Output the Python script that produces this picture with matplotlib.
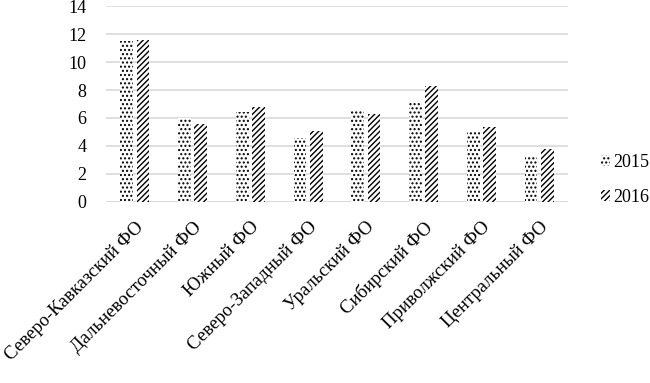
import matplotlib
matplotlib.use("Agg")
import matplotlib.pyplot as plt
import numpy as np

okruga = ["Северо-Кавказский ФО", "Дальневосточный ФО", "Южный ФО",
          "Северо-Западный ФО", "Уральский ФО", "Сибирский ФО",
          "Приволжский ФО", "Центральный ФО"]
v2015 = [11.5, 6.0, 6.4, 4.55, 6.5, 7.15, 5.05, 3.3]
v2016 = [11.6, 5.55, 6.75, 5.05, 6.3, 8.3, 5.35, 3.75]

plt.rcParams['font.family'] = ['Liberation Serif', 'DejaVu Serif']
plt.rcParams['hatch.linewidth'] = 1.0

fig = plt.figure(figsize=(6.5, 3.83), dpi=100)
ax = fig.add_axes([0.163, 0.473, 0.711, 0.511])

x = np.arange(len(okruga))
w = 0.22
b1 = ax.bar(x - w / 2 - 0.03, v2015, w, color='white', edgecolor='black',
            hatch='....', linewidth=0, label='2015')
b2 = ax.bar(x + w / 2 + 0.03, v2016, w, color='white', edgecolor='black',
            hatch='//////', linewidth=0, label='2016')

ax.set_xlim(-0.5, len(okruga) - 0.5)
ax.set_ylim(0, 14)
ax.set_yticks(range(0, 15, 2))
ax.yaxis.grid(True, color='#d9d9d9', linewidth=1.2)
ax.set_axisbelow(True)
for s in ax.spines.values():
    s.set_visible(False)
ax.axhline(0, color='#d9d9d9', linewidth=1.2, zorder=0)
ax.tick_params(axis='y', length=0, labelsize=13, pad=14)
ax.tick_params(axis='x', length=0, labelsize=13.5, pad=12)
ax.set_xticks(x)
ax.set_xticklabels(okruga, rotation=45, ha='right', rotation_mode='anchor')

fig.legend(handles=[b1, b2], loc='center left', bbox_to_anchor=(0.925, 0.53),
           frameon=False, fontsize=13, handlelength=0.5, handleheight=0.6,
           handletextpad=0.15, labelspacing=1.0, borderpad=0, borderaxespad=0)

fig.savefig("out.png", dpi=100)
